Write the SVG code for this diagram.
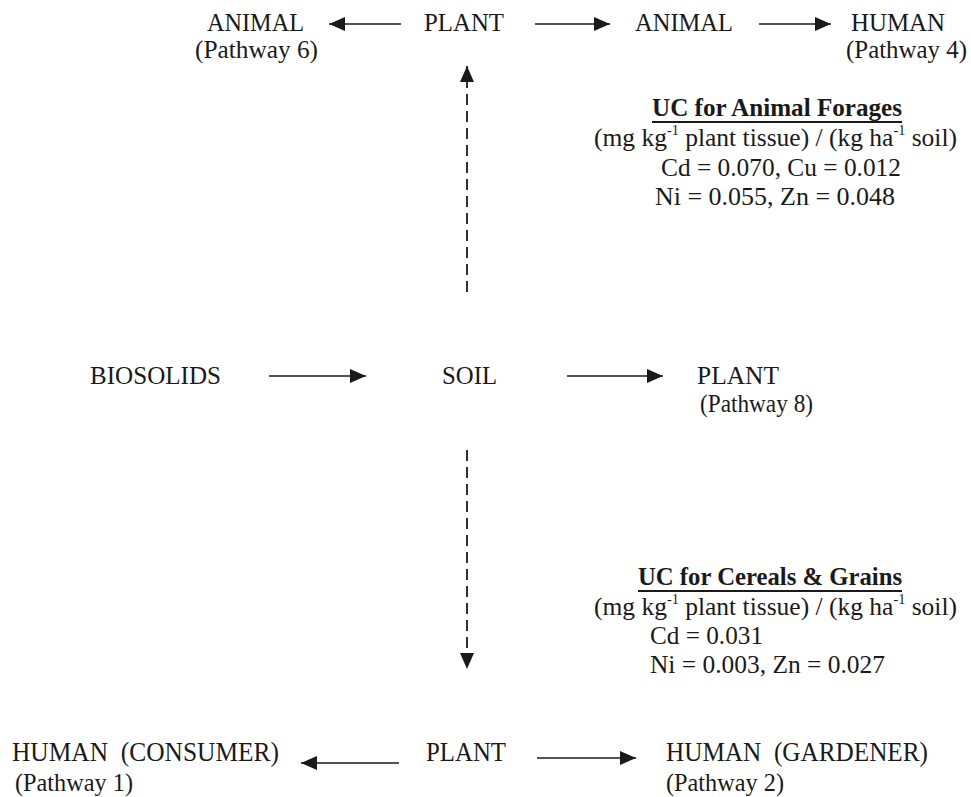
<svg xmlns="http://www.w3.org/2000/svg" width="971" height="797" viewBox="0 0 971 797">
<style>
text{font-family:"Liberation Serif","Times New Roman",serif;font-size:25px;fill:#1a1a1a}
.b{font-weight:bold}
.big{font-size:27px}
.mid{font-size:26px}
.ln{stroke:#1a1a1a;stroke-width:1.6;fill:none}
.ds{stroke:#1a1a1a;stroke-width:1.8;fill:none;stroke-dasharray:11 6}
.sup{font-size:14px}
</style>
<defs>
<marker id="ah" viewBox="0 0 16 14" refX="16" refY="7" markerWidth="16" markerHeight="14" markerUnits="userSpaceOnUse" orient="auto">
<path d="M0,0 L16,7 L0,14 Z" fill="#1a1a1a"/>
</marker>
</defs>
<rect width="971" height="797" fill="#fff"/>
<g id="connectors">
<line class="ln" x1="401" y1="24" x2="329" y2="24" marker-end="url(#ah)"/>
<line class="ln" x1="535" y1="24" x2="610" y2="24" marker-end="url(#ah)"/>
<line class="ln" x1="759" y1="24" x2="831" y2="24" marker-end="url(#ah)"/>
<line class="ds" x1="467" y1="292" x2="467" y2="66" marker-end="url(#ah)"/>
<line class="ln" x1="269" y1="376" x2="366" y2="376" marker-end="url(#ah)"/>
<line class="ln" x1="567" y1="376" x2="663" y2="376" marker-end="url(#ah)"/>
<line class="ds" x1="467" y1="450" x2="467" y2="669" marker-end="url(#ah)"/>
<line class="ln" x1="399" y1="763" x2="301" y2="763" marker-end="url(#ah)"/>
<line class="ln" x1="537" y1="758" x2="636" y2="758" marker-end="url(#ah)"/>
</g>
<g id="animal6">
<text x="207" y="31" textLength="97" lengthAdjust="spacingAndGlyphs">ANIMAL</text>
<text x="195" y="58" textLength="123" lengthAdjust="spacingAndGlyphs">(Pathway 6)</text>
</g>
<g id="plant-top"><text x="424" y="31" textLength="80" lengthAdjust="spacingAndGlyphs">PLANT</text></g>
<g id="animal-top"><text x="635" y="31" textLength="98" lengthAdjust="spacingAndGlyphs">ANIMAL</text></g>
<g id="human4">
<text x="851" y="31" textLength="94" lengthAdjust="spacingAndGlyphs">HUMAN</text>
<text x="846" y="58" textLength="121" lengthAdjust="spacingAndGlyphs">(Pathway 4)</text>
</g>
<g id="uc-forages">
<text class="b" x="652" y="116" textLength="250" lengthAdjust="spacingAndGlyphs">UC for Animal Forages</text>
<line x1="652" y1="122" x2="902" y2="122" stroke="#1a1a1a" stroke-width="2"/>
<text x="594" y="146" textLength="363" lengthAdjust="spacingAndGlyphs">(mg kg<tspan class="sup" dy="-11">-1</tspan><tspan dy="11"> plant tissue) / (kg ha</tspan><tspan class="sup" dy="-11">-1</tspan><tspan dy="11"> soil)</tspan></text>
<text x="661" y="176" textLength="240" lengthAdjust="spacingAndGlyphs">Cd = 0.070, Cu = 0.012</text>
<text x="655" y="205" textLength="240" lengthAdjust="spacingAndGlyphs">Ni = 0.055, Zn = 0.048</text>
</g>
<g id="biosolids"><text x="90" y="384" textLength="131" lengthAdjust="spacingAndGlyphs">BIOSOLIDS</text></g>
<g id="soil"><text x="442" y="384" textLength="55" lengthAdjust="spacingAndGlyphs">SOIL</text></g>
<g id="plant8">
<text x="697" y="384" textLength="82" lengthAdjust="spacingAndGlyphs">PLANT</text>
<text x="700" y="412" textLength="113" lengthAdjust="spacingAndGlyphs">(Pathway 8)</text>
</g>
<g id="uc-cereals">
<text class="b" x="638" y="585" textLength="264" lengthAdjust="spacingAndGlyphs">UC for Cereals &amp; Grains</text>
<line x1="638" y1="591" x2="902" y2="591" stroke="#1a1a1a" stroke-width="2"/>
<text x="594" y="615" textLength="363" lengthAdjust="spacingAndGlyphs">(mg kg<tspan class="sup" dy="-11">-1</tspan><tspan dy="11"> plant tissue) / (kg ha</tspan><tspan class="sup" dy="-11">-1</tspan><tspan dy="11"> soil)</tspan></text>
<text x="650" y="644" textLength="113" lengthAdjust="spacingAndGlyphs">Cd = 0.031</text>
<text x="650" y="673" textLength="235" lengthAdjust="spacingAndGlyphs">Ni = 0.003, Zn = 0.027</text>
</g>
<g id="human1">
<text class="big" x="12" y="761" textLength="267" lengthAdjust="spacingAndGlyphs">HUMAN&#160; (CONSUMER)</text>
<text class="mid" x="15" y="791" textLength="118" lengthAdjust="spacingAndGlyphs">(Pathway 1)</text>
</g>
<g id="plant-bottom"><text class="big" x="426" y="761" textLength="80" lengthAdjust="spacingAndGlyphs">PLANT</text></g>
<g id="human2">
<text class="big" x="666" y="761" textLength="262" lengthAdjust="spacingAndGlyphs">HUMAN&#160; (GARDENER)</text>
<text class="mid" x="666" y="791" textLength="118" lengthAdjust="spacingAndGlyphs">(Pathway 2)</text>
</g>
</svg>
